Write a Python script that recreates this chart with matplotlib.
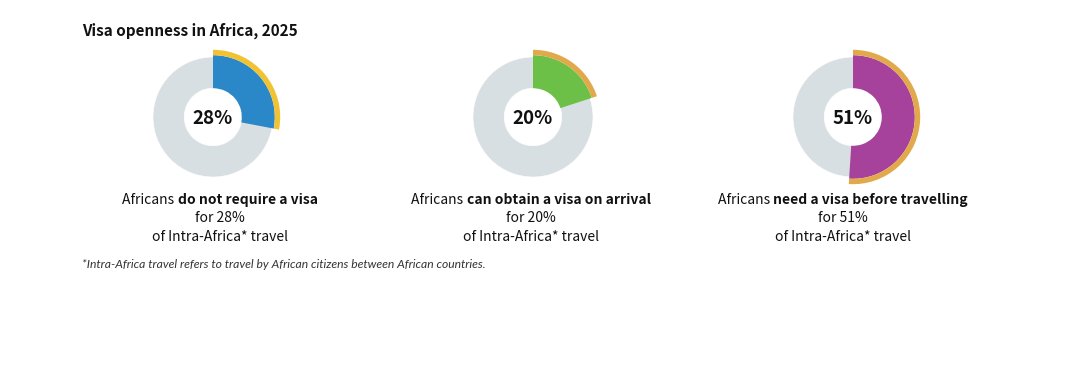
import matplotlib
matplotlib.use("Agg")
import matplotlib.pyplot as plt

plt.rcParams['font.family'] = ['Noto Sans CJK JP', 'DejaVu Sans']

# data
shares = [28, 20, 51]
labels = ['28%', '20%', '51%']
lead_words = ['Africans ', 'Africans ', 'Africans ']
bold_words = ['do not require a visa', 'can obtain a visa on arrival', 'need a visa before travelling']
for_lines = ['for 28%', 'for 20%', 'for 51%']
fill_colors = ['#2a87c8', '#6cbf47', '#a6429b']
band_colors = ['#f1c232', '#e2a94a', '#e2a94a']
ring_gray = '#d8dfe2'

W, H = 1066, 376
fig = plt.figure(figsize=(W / 100, H / 100), dpi=100)
fig.patch.set_facecolor('white')

centers_x = [213, 533, 853]
center_y = 117
size = 150  # axes size in px, 60 px per data unit

for i, v in enumerate(shares):
    cx = centers_x[i]
    ax = fig.add_axes([(cx - size / 2) / W, 1 - (center_y + size / 2) / H, size / W, size / H])
    ax.set_aspect('equal')
    ax.axis('off')
    # gray base ring
    ax.pie([100], radius=1.0, colors=[ring_gray], startangle=90,
           wedgeprops=dict(width=0.52, edgecolor='white', linewidth=0.4))
    # coloured share
    ax.pie([v, 100 - v], radius=1.03, colors=[fill_colors[i], 'none'], startangle=90,
           counterclock=False, wedgeprops=dict(width=0.55, linewidth=0))
    # outer accent band
    ax.pie([v, 100 - v], radius=1.12, colors=[band_colors[i], 'none'], startangle=90,
           counterclock=False, wedgeprops=dict(width=0.09, linewidth=0))
    ax.set_xlim(-1.25, 1.25)
    ax.set_ylim(-1.25, 1.25)
    ax.text(0, -0.02, labels[i], ha='center', va='center', fontsize=13.5,
            fontweight='bold', color='#111111')

# title
fig.text(82 / W, 1 - 31 / H, 'Visa openness in Africa, 2025', fontsize=11,
         fontweight='bold', va='center', ha='left', color='#111111')

# captions with mixed weight on first line
renderer = fig.canvas.get_renderer()
cap_x = [220, 531, 843]
for i in range(3):
    y1 = 1 - 200 / H
    t1 = fig.text(0, y1, lead_words[i], fontsize=10, va='center', ha='left', color='#111111')
    t2 = fig.text(0, y1, bold_words[i], fontsize=10, fontweight='bold', va='center',
                  ha='left', color='#111111')
    w1 = t1.get_window_extent(renderer).width
    w2 = t2.get_window_extent(renderer).width
    x0 = cap_x[i] - (w1 + w2) / 2
    t1.set_x(x0 / W)
    t2.set_x((x0 + w1) / W)
    fig.text(cap_x[i] / W, 1 - 218 / H, for_lines[i], fontsize=10, va='center',
             ha='center', color='#111111')
    fig.text(cap_x[i] / W, 1 - 237 / H, 'of Intra-Africa* travel', fontsize=10,
             va='center', ha='center', color='#111111')

# footnote
fig.text(82 / W, 1 - 265 / H,
         '*Intra-Africa travel refers to travel by African citizens between African countries.',
         fontsize=8.7, style='italic', family=['Lato', 'DejaVu Sans'],
         va='center', ha='left', color='#333333')

fig.savefig('out.png', dpi=100, facecolor='white')
